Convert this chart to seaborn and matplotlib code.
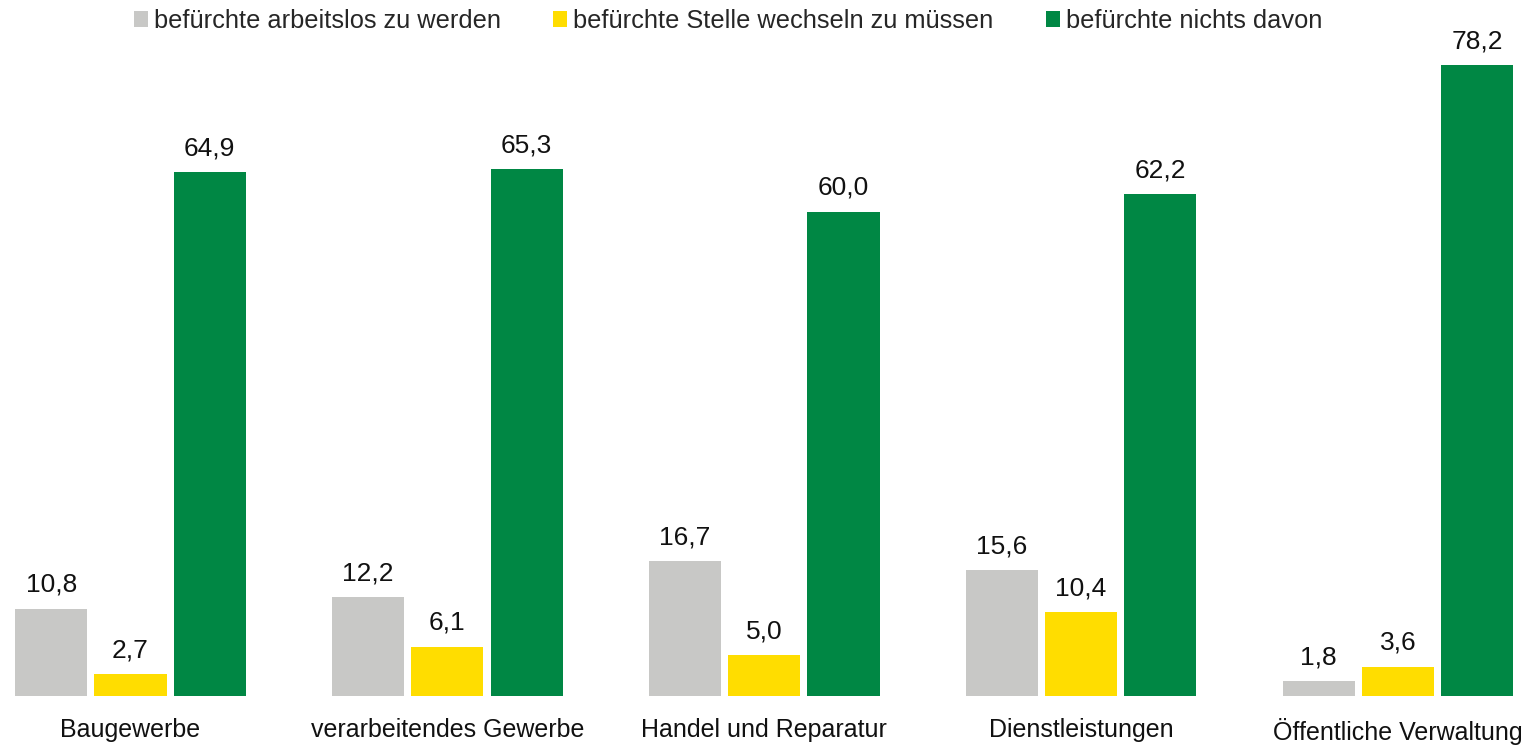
import matplotlib
matplotlib.use("Agg")
import matplotlib.pyplot as plt
import seaborn as sns
import pandas as pd

categories = ["Baugewerbe", "verarbeitendes Gewerbe", "Handel und Reparatur",
              "Dienstleistungen", "Öffentliche Verwaltung"]
series = ["befürchte arbeitslos zu werden", "befürchte Stelle wechseln zu müssen",
          "befürchte nichts davon"]
arbeitslos = [10.8, 12.2, 16.7, 15.6, 1.8]
stelle = [2.7, 6.1, 5.0, 10.4, 3.6]
nichts = [64.9, 65.3, 60.0, 62.2, 78.2]
colors = ["#C8C8C6", "#FFDD00", "#008744"]

df = pd.DataFrame({
    "Bereich": categories * 3,
    "Gruppe": [series[0]] * 5 + [series[1]] * 5 + [series[2]] * 5,
    "Wert": arbeitslos + stelle + nichts,
})

sns.set_style("white")
plt.rcParams['font.family'] = ['Liberation Sans', 'DejaVu Sans']

fig = plt.figure(figsize=(15.3, 7.47), dpi=100)
ax = fig.add_axes([-27.9 / 1530, 51.3 / 747, 1584.3 / 1530, 645.2 / 747])

sns.barplot(data=df, x="Bereich", y="Wert", hue="Gruppe", palette=colors,
            width=0.75, gap=0.09, saturation=1, linewidth=0, ax=ax, legend=True)

for cont in ax.containers:
    ax.bar_label(cont, labels=[f"{v:.1f}".replace(".", ",") for v in cont.datavalues],
                 padding=8.5, fontsize=19, color="#111111")

ax.set_ylim(0, 80)
ax.set_xlim(-0.5, 4.5)
ax.set_xlabel("")
ax.set_ylabel("")
ax.set_yticks([])
ax.tick_params(axis="x", length=0, pad=16, labelsize=18, colors="#111111")
sns.despine(ax=ax, left=True, bottom=True)

handles, labels = ax.get_legend_handles_labels()
ax.get_legend().remove()
fig.legend(handles, labels, loc="center", bbox_to_anchor=(728 / 1530, 1 - 21 / 747),
           ncol=3, frameon=False, fontsize=18.3, handlelength=0.55, handleheight=0.55,
           handletextpad=0.25, columnspacing=2.05, borderpad=0)

fig.savefig("out.png", dpi=100)
